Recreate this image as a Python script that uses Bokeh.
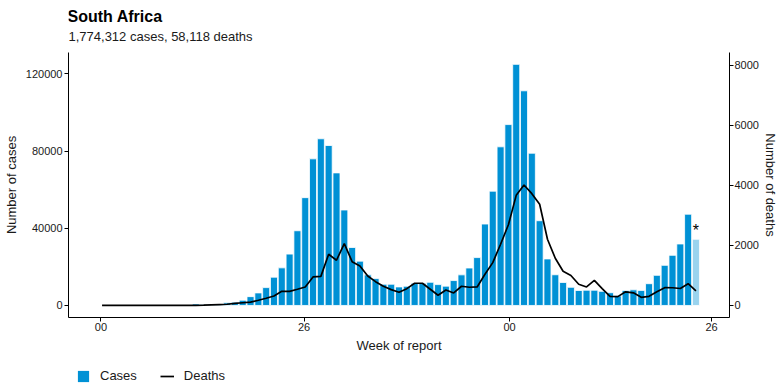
import pandas as pd
from bokeh.plotting import figure
from bokeh.layouts import column
from bokeh.models import (Range1d, LinearAxis, FixedTicker, Legend, LegendItem, Label,
                          ColumnDataSource, BasicTickFormatter)
from bokeh.embed import file_html
from bokeh.resources import INLINE
from bokeh.core.properties import value

# ---------------- data ----------------
title_text = "South Africa"
subtitle_text = "1,774,312 cases, 58,118 deaths"
origin = "2020-01-01"
first_week = "2020-01-02"

cases = [0, 0, 0, 0, 0, 0, 0, 0, 0, 10, 20, 130, 780, 530, 470, 670, 1350, 1690, 2700,
         4570, 6500, 9250, 14650, 19480, 26600, 38700, 55850, 75950, 86340, 82860,
         68680, 49450, 30030, 22960, 15850, 13920, 11000, 11000, 9600, 9950, 11530,
         11530, 12000, 10800, 10000, 12900, 15850, 19400, 24800, 42180, 59200, 82180,
         93700, 124900, 111200, 78860, 43900, 24100, 15900, 11900, 9400, 7750, 7900,
         7900, 7300, 6600, 5000, 7800, 8100, 7800, 11270, 15600, 20780, 25970, 31850,
         47270, 34290]
deaths = [0, 0, 0, 0, 0, 0, 0, 0, 0, 0, 0, 0, 2, 10, 20, 30, 40, 70, 90,
          110, 173, 240, 317, 470, 470, 540, 617, 950, 970, 1707,
          1507, 2060, 1460, 1317, 983, 793, 640, 527, 440, 560, 740,
          740, 540, 340, 517, 417, 640, 607, 617, 1040, 1427, 2040,
          2690, 3670, 4017, 3727, 3373, 2207, 1573, 1140, 1000, 707, 617,
          835, 560, 300, 295, 455, 420, 270, 305, 455, 593, 590, 565,
          725, 483]

tick_dates = ["2020-01-01", "2020-07-01", "2021-01-01", "2021-07-01"]
tick_labels = ["00", "26", "00", "26"]
case_ticks = [0, 40000, 80000, 120000]
death_ticks = [0, 2000, 4000, 6000, 8000]
legend_labels = ["Cases", "Deaths"]

# ---------------- styling ----------------
BLUE = "#0091d5"
LIGHT = "#99d3ee"
FONT = "Liberation Sans"
TXT = "#1a1a1a"

t0 = pd.Timestamp(origin)
week_days = [(d - t0).days for d in pd.date_range(first_week, periods=len(cases), freq="7D")]
tick_days = [(pd.Timestamp(d) - t0).days for d in tick_dates]

src_main = ColumnDataSource(dict(x=week_days[:-1], cases=cases[:-1]))
src_last = ColumnDataSource(dict(x=week_days[-1:], cases=cases[-1:], star=["*"]))
src_d = ColumnDataSource(dict(x=week_days, deaths=deaths))

# ranges (ggplot-like 5% expansion)
bw = 6.3
xmin, xmax = min(week_days) - bw / 2, max(week_days) + bw / 2
xpad = 0.05 * (xmax - xmin)
cmax = 124800
ratio = 15.54

W, H0, H1, H2 = 784, 52, 310, 30


def blank_strip(h):
    f = figure(width=W, height=h, output_backend="svg", toolbar_location=None,
               x_range=Range1d(0, 1), y_range=Range1d(0, 1),
               x_axis_location=None, y_axis_location=None, min_border=0, title=None)
    f.outline_line_color = None
    f.xgrid.visible = False
    f.ygrid.visible = False
    return f


# ---------------- title strip ----------------
t = blank_strip(H0)
t.add_layout(Label(x=-1, y=36, x_units="screen", y_units="screen", text=title_text,
                   text_font=FONT, text_font_size="16px", text_font_style="bold",
                   text_baseline="alphabetic", text_color="black"))
t.add_layout(Label(x=0, y=16, x_units="screen", y_units="screen", text=subtitle_text,
                   text_font=FONT, text_font_size="13px", text_baseline="alphabetic",
                   text_color=TXT))

# ---------------- main chart ----------------
p = figure(width=W, height=H1, output_backend="svg", toolbar_location=None,
           x_range=Range1d(xmin - xpad, xmax + xpad),
           y_range=Range1d(-0.05 * cmax, 1.05 * cmax),
           min_border_left=68, min_border_right=55, min_border_top=0, min_border_bottom=45,
           title=None)
p.extra_y_ranges = {"deaths": Range1d(-0.05 * cmax / ratio, 1.05 * cmax / ratio)}
p.background_fill_color = "white"
p.border_fill_color = "white"
p.outline_line_color = None
p.xgrid.visible = False
p.ygrid.visible = False

p.vbar(x="x", top="cases", width=bw, source=src_main, fill_color=BLUE,
       line_color="white", line_width=0.8)
p.vbar(x="x", top="cases", width=bw, source=src_last, fill_color=LIGHT,
       line_color="white", line_width=0.8)
p.text(x="x", y="cases", text="star", source=src_last, text_align="center",
       text_baseline="alphabetic", y_offset=-9, text_font=value(FONT),
       text_font_size="16px", text_color="black")
p.line(x="x", y="deaths", source=src_d, y_range_name="deaths",
       line_color="black", line_width=1.7)

right = LinearAxis(y_range_name="deaths", axis_label="Number of deaths")
p.add_layout(right, "right")

p.xaxis.ticker = FixedTicker(ticks=tick_days)
p.xaxis.major_label_overrides = {d: l for d, l in zip(tick_days, tick_labels)}
p.xaxis.axis_label = "Week of report"
p.yaxis[0].ticker = FixedTicker(ticks=case_ticks)
p.yaxis[0].axis_label = "Number of cases"
right.ticker = FixedTicker(ticks=death_ticks)
for ax in p.yaxis:
    ax.formatter = BasicTickFormatter(use_scientific=False)

for ax in p.xaxis + p.yaxis:
    ax.axis_line_color = "black"
    ax.axis_line_width = 1
    ax.major_tick_line_color = "black"
    ax.major_tick_out = 4
    ax.major_tick_in = 0
    ax.minor_tick_out = 0
    ax.minor_tick_in = 0
    ax.major_label_text_font = FONT
    ax.major_label_text_font_size = "11px"
    ax.major_label_text_color = TXT
    ax.axis_label_text_font = FONT
    ax.axis_label_text_font_size = "13px"
    ax.axis_label_text_font_style = "normal"
    ax.axis_label_text_color = TXT
    ax.major_label_standoff = 2
    ax.axis_label_standoff = 4
p.xaxis.major_label_standoff = 1
right.major_label_standoff = 1
right.axis_label_standoff = 1

# ---------------- legend strip ----------------
q = blank_strip(H2)
nan = float("nan")
lb = q.vbar(x="x", top="top", width=1, source=ColumnDataSource(dict(x=[nan], top=[nan])),
            fill_color=BLUE, line_color=None)
ll = q.line(x="x", y="y", source=ColumnDataSource(dict(x=[nan], y=[nan])),
            line_color="black", line_width=1.7)
legend = Legend(items=[LegendItem(label=legend_labels[0], renderers=[lb]),
                       LegendItem(label=legend_labels[1], renderers=[ll])],
                orientation="horizontal", location=(8, 9),
                glyph_width=14, glyph_height=14, label_height=14, label_standoff=10,
                spacing=23, padding=0, margin=0, border_line_color=None,
                background_fill_alpha=0, label_text_font=FONT,
                label_text_font_size="13px", label_text_color=TXT)
q.add_layout(legend)

layout = column(t, p, q, spacing=0)
open("out.html", "w").write(file_html(layout, INLINE))
